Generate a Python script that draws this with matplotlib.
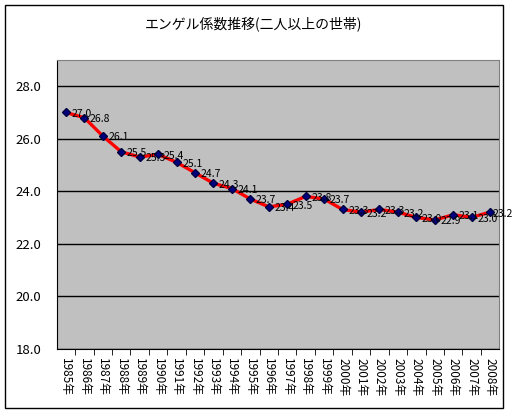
import matplotlib
matplotlib.use("Agg")
import matplotlib.pyplot as plt
from matplotlib.patches import Rectangle
from matplotlib.ticker import FixedLocator

plt.rcParams['font.family'] = ['Noto Sans CJK JP', 'DejaVu Sans']

# data
years = [1985, 1986, 1987, 1988, 1989, 1990, 1991, 1992, 1993, 1994, 1995, 1996,
         1997, 1998, 1999, 2000, 2001, 2002, 2003, 2004, 2005, 2006, 2007, 2008]
engel = [27.0, 26.8, 26.1, 25.5, 25.3, 25.4, 25.1, 24.7, 24.3, 24.1, 23.7, 23.4,
         23.5, 23.8, 23.7, 23.3, 23.2, 23.3, 23.2, 23.0, 22.9, 23.1, 23.0, 23.2]
year_labels = [f"{y}年" for y in years]
title = "エンゲル係数推移(二人以上の世帯)"

fig = plt.figure(figsize=(5.13, 4.13), dpi=100)
fig.patch.set_facecolor("white")

# outer chart border
fig.patches.append(Rectangle((5 / 513, 1 - 408 / 413), 498 / 513, 403 / 413,
                             transform=fig.transFigure, fill=False,
                             edgecolor="black", linewidth=1, zorder=10))

ax = fig.add_axes([56.7 / 513, 1 - 348.5 / 413, 442.6 / 513, 288.5 / 413])
ax.set_facecolor("#c0c0c0")

x = list(range(len(years)))
ax.plot(x, engel, color="red", linewidth=2.4, zorder=3)
ax.plot(x, engel, linestyle="none", marker="D", markersize=4.2,
        markerfacecolor="#000080", markeredgecolor="#000040", zorder=4)

for xi, v in zip(x, engel):
    dx = 4 if xi < len(x) - 1 else 2
    ax.annotate(f"{v:.1f}", (xi, v), xytext=(dx, -1), textcoords="offset points",
                ha="left", va="center", fontsize=7.5, zorder=5)

ax.set_xlim(-0.5, len(years) - 0.5)
ax.set_ylim(18, 29)
ax.set_yticks([18, 20, 22, 24, 26, 28])
ax.set_yticklabels([f"{t:.1f}" for t in [18, 20, 22, 24, 26, 28]], fontsize=9.5)
ax.yaxis.grid(True, color="black", linewidth=1)
ax.set_axisbelow(True)
ax.tick_params(axis="y", length=0, pad=11)

ax.set_xticks(x)
ax.set_xticklabels(year_labels, rotation=-90, fontsize=8.5, va="top", ha="center")
ax.tick_params(axis="x", which="major", length=0, pad=7)
ax.xaxis.set_minor_locator(FixedLocator([i + 0.5 for i in x[:-1]]))
ax.tick_params(axis="x", which="minor", length=4, direction="out", color="black")

for side in ["top", "right"]:
    ax.spines[side].set_color("#808080")
ax.spines["bottom"].set_color("black")
ax.spines["left"].set_color("black")

fig.text(254 / 513, 1 - 24 / 413, title, ha="center", va="center", fontsize=10)

fig.savefig("out.png", dpi=100)
